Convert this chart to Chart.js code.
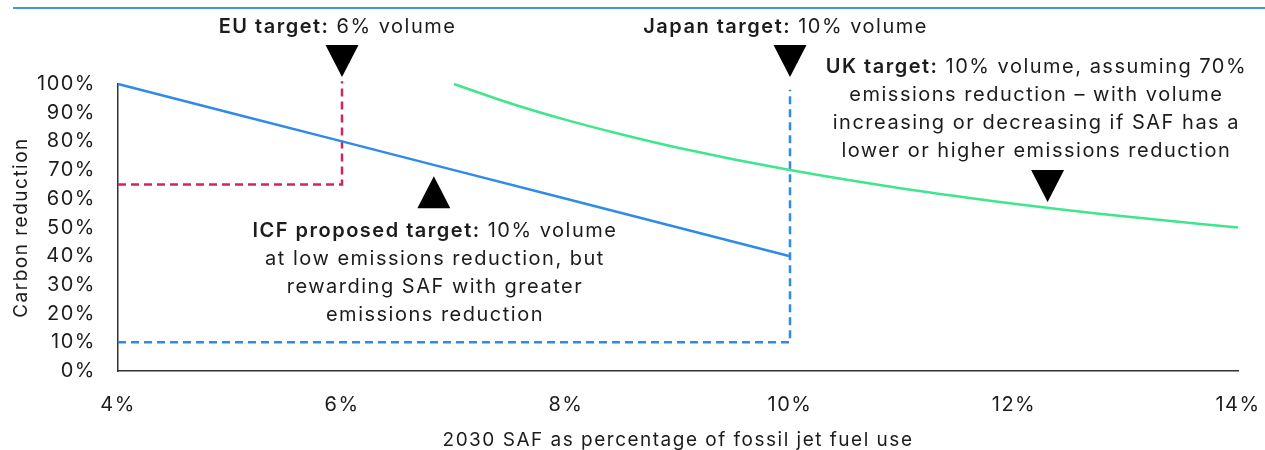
<!DOCTYPE html>
<html>
<head>
<meta charset="utf-8">
<script src="https://cdn.jsdelivr.net/npm/chart.js@4.4.1/dist/chart.umd.min.js"></script>
<style>
  html, body { margin: 0; padding: 0; background: #fff; overflow: hidden; }
  #wrap { position: relative; width: 1265px; height: 450px; }
  #rule { position: absolute; left: 13px; right: 0; top: 7px; height: 2px; background: #3d94e8; }
  canvas { position: absolute; left: 0; top: 0; }
</style>
</head>
<body>
<div id="wrap">
  <div id="rule"></div>
  <canvas id="safChart" width="1265" height="460"></canvas>
</div>
<script>
// --- data ---
const xTicks = [4, 6, 8, 10, 12, 14];
const yTicks = [0, 10, 20, 30, 40, 50, 60, 70, 80, 90, 100];

// ICF proposal: volume scales with emissions reduction
const icfX = [4, 5, 6, 7, 8, 9, 10];
const icfY = [100, 90, 80, 70, 60, 50, 40];

// UK mandate curve
const ukX = [7, 7.5, 8, 8.5, 9, 10, 11, 12, 13, 14];
const ukY = [100, 93.3, 87.5, 82.4, 77.8, 70, 63.6, 58.3, 53.8, 50];

// EU step (6% volume, 65% reduction)
const euX = [4, 6, 6];
const euY = [65, 65, 101];

// Japan step (10% volume, 10% reduction)
const jpX = [4, 10, 10];
const jpY = [10, 10, 98];

const FONT = 'Inter, "Noto Sans", sans-serif';
const INK = '#1c1c1c';
const SPACING = '1.5px';

function pts(xs, ys) { return xs.map((x, i) => ({ x: x, y: ys[i] })); }

// callouts: anchor in data units, lines of [text, bold] parts
const callouts = [
  { x: 5.96, y: 120, lines: [[['EU target:', true], [' 6% volume', false]]] },
  { x: 9.96, y: 120, lines: [[['Japan target:', true], [' 10% volume', false]]] },
  { x: 12.2, y: 106, lines: [
    [['UK target:', true], [' 10% volume, assuming 70%', false]],
    [['emissions reduction \u2013 with volume', false]],
    [['increasing or decreasing if SAF has a', false]],
    [['lower or higher emissions reduction', false]]
  ] },
  { x: 6.83, y: 48.8, lines: [
    [['ICF proposed target:', true], [' 10% volume', false]],
    [['at low emissions reduction, but', false]],
    [['rewarding SAF with greater', false]],
    [['emissions reduction', false]]
  ] }
];

// triangle markers: tip position in data units
const markers = [
  { x: 6, y: 102.4, dir: 'down' },
  { x: 10, y: 102.4, dir: 'down' },
  { x: 12.3, y: 58.9, dir: 'down' },
  { x: 6.82, y: 67.9, dir: 'up' }
];

function drawRich(ctx, parts, cx, cy, size) {
  let total = 0;
  parts.forEach(p => {
    ctx.font = (p[1] ? '600 ' : '400 ') + size + 'px ' + FONT;
    total += ctx.measureText(p[0]).width;
  });
  let x = cx - total / 2;
  parts.forEach(p => {
    ctx.font = (p[1] ? '600 ' : '400 ') + size + 'px ' + FONT;
    ctx.fillText(p[0], x, cy);
    x += ctx.measureText(p[0]).width;
  });
}

const annotationPlugin = {
  id: 'calloutText',
  beforeDraw(chart) {
    chart.ctx.letterSpacing = SPACING;
  },
  afterDraw(chart) {
    const ctx = chart.ctx;
    const xs = chart.scales.x, ys = chart.scales.y;
    ctx.save();
    ctx.letterSpacing = SPACING;
    ctx.fillStyle = INK;
    ctx.textAlign = 'left';
    ctx.textBaseline = 'middle';
    callouts.forEach(c => {
      const cx = xs.getPixelForValue(c.x);
      const cy = ys.getPixelForValue(c.y);
      c.lines.forEach((line, i) => drawRich(ctx, line, cx, cy + i * 28, 20));
    });
    ctx.fillStyle = '#000';
    markers.forEach(m => {
      const px = xs.getPixelForValue(m.x);
      const py = ys.getPixelForValue(m.y);
      const h = 32, w = 33;
      const base = m.dir === 'down' ? py - h : py + h;
      ctx.beginPath();
      ctx.moveTo(px, py);
      ctx.lineTo(px - w / 2, base);
      ctx.lineTo(px + w / 2, base);
      ctx.closePath();
      ctx.fill();
    });
    ctx.restore();
  }
};

new Chart(document.getElementById('safChart'), {
  type: 'line',
  data: {
    datasets: [
      { label: 'ICF', data: pts(icfX, icfY), borderColor: '#2f8be8', borderWidth: 2.5 },
      { label: 'UK', data: pts(ukX, ukY), borderColor: '#3ee68c', borderWidth: 2.5, cubicInterpolationMode: 'monotone' },
      { label: 'EU', data: pts(euX, euY), borderColor: '#d3245f', borderWidth: 2.5, borderDash: [8, 5] },
      { label: 'Japan', data: pts(jpX, jpY), borderColor: '#2f8be8', borderWidth: 2.5, borderDash: [8, 5] }
    ]
  },
  options: {
    responsive: false,
    animation: false,
    layout: { padding: { left: 0, top: 84, right: 27, bottom: 0 } },
    elements: { point: { radius: 0 }, line: { tension: 0, borderCapStyle: 'butt' } },
    datasets: { line: { clip: false } },
    plugins: { legend: { display: false }, tooltip: { enabled: false } },
    scales: {
      x: {
        type: 'linear',
        min: 4, max: 14,
        afterBuildTicks: s => { s.ticks = xTicks.map(v => ({ value: v })); },
        afterFit: s => { s.height = 89; s.paddingLeft = 0; s.paddingRight = 0; },
        grid: { display: false, drawTicks: false },
        border: { display: true, color: '#333', width: 1.5 },
        ticks: { color: INK, padding: 22, font: { family: FONT, size: 20 }, callback: v => v + '%' },
        title: { display: true, text: '2030 SAF as percentage of fossil jet fuel use', color: INK, font: { family: FONT, size: 19 }, padding: { top: 0, bottom: 8 } }
      },
      y: {
        min: 0, max: 100,
        afterBuildTicks: s => { s.ticks = yTicks.map(v => ({ value: v })); },
        afterFit: s => { s.width = 118; s.paddingTop = 0; s.paddingBottom = 0; },
        grid: { display: false, drawTicks: false },
        border: { display: true, color: '#333', width: 1.5 },
        ticks: { color: INK, padding: 22, font: { family: FONT, size: 20 }, callback: v => v + '%' },
        title: { display: true, text: 'Carbon reduction', color: INK, font: { family: FONT, size: 19 }, padding: { top: 10, bottom: 0 } }
      }
    }
  },
  plugins: [annotationPlugin]
});
</script>
</body>
</html>
